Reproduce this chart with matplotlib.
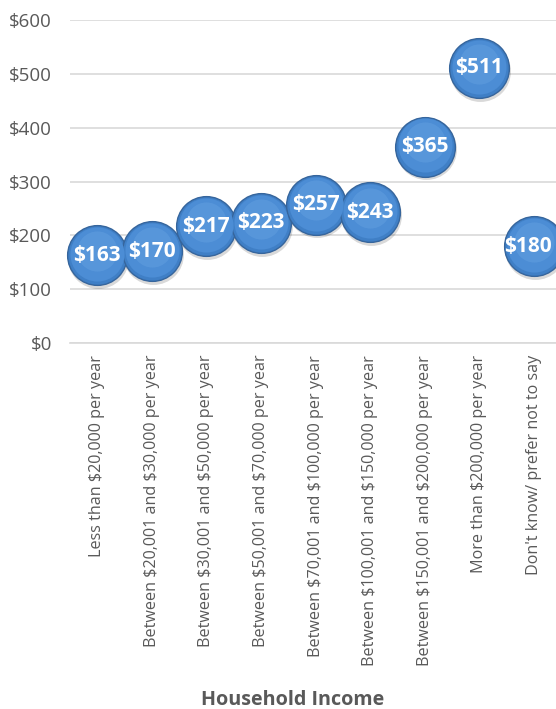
import matplotlib
matplotlib.use("Agg")
import matplotlib.pyplot as plt
import matplotlib.transforms as mtransforms
import numpy as np

categories = [
    "Less than $20,000 per year",
    "Between $20,001 and $30,000 per year",
    "Between $30,001 and $50,000 per year",
    "Between $50,001 and $70,000 per year",
    "Between $70,001 and $100,000 per year",
    "Between $100,001 and $150,000 per year",
    "Between $150,001 and $200,000 per year",
    "More than $200,000 per year",
    "Don't know/ prefer not to say",
]
values = [163, 170, 217, 223, 257, 243, 365, 511, 180]
yticks = [0, 100, 200, 300, 400, 500, 600]
ytick_labels = ["$0", "$100", "$200", "$300", "$400", "$500", "$600"]
x_title = "Household Income"

plt.rcParams['font.family'] = ['Open Sans', 'DejaVu Sans']
plt.rcParams['text.parse_math'] = False

fig = plt.figure(figsize=(5.56, 7.09), dpi=100)
ax = fig.add_axes([70/556, 1-343/709, 491/556, (343-20)/709])

x = np.arange(len(categories))
ax.set_xlim(-0.5, len(categories) - 0.5)
ax.set_ylim(0, 600)
ax.set_yticks(yticks)
ax.set_yticklabels(ytick_labels, color="#595959", fontsize=13.5)
ax.set_xticks(x)
ax.set_xticklabels(categories, rotation=90, color="#595959", fontsize=11.6, va="top")
ax.tick_params(length=0, pad=8.5)
ax.tick_params(axis="y", pad=13)
ax.grid(axis="y", color="#d9d9d9", linewidth=1.2)
ax.set_axisbelow(True)
for s in ["top", "right", "left"]:
    ax.spines[s].set_visible(False)
ax.spines["bottom"].set_color("#d9d9d9")
ax.spines["bottom"].set_linewidth(1.2)

size = 1850
labels = []
for xi, v in zip(x, values):
    # shadow
    ax.scatter([xi + 0.02], [v - 5], s=size * 1.04, color="#000000", alpha=0.15,
               linewidths=0, zorder=3, clip_on=False)
    ax.scatter([xi], [v], s=size, color="#3f7fc6", edgecolors="#36659c",
               linewidths=1.0, zorder=4, clip_on=False)
    ax.scatter([xi], [v + 2], s=size * 0.82, color="#4c8dd5", linewidths=0,
               zorder=4.1, clip_on=False)
    ax.scatter([xi], [v + 8], s=size * 0.45, color="#6ea9e6", linewidths=0,
               zorder=4.2, clip_on=False, alpha=0.35)
    t = ax.text(xi, v, f"${v}", color="white", fontsize=15, fontweight="bold",
                ha="center", va="center", zorder=5)
    labels.append(t)

fig.text(293/556, 1-700/709, x_title, ha="center", va="center",
         color="#595959", fontsize=14.2, fontweight="bold")

# keep data labels inside the figure (as Excel does)
fig.canvas.draw()
renderer = fig.canvas.get_renderer()
W = fig.bbox.width
for t in labels:
    bb = t.get_window_extent(renderer)
    if bb.x1 > W - 4:
        dx = (W - 4 - bb.x1) / fig.dpi
        t.set_transform(t.get_transform() + mtransforms.ScaledTranslation(dx, 0, fig.dpi_scale_trans))

fig.savefig("out.png", dpi=100)
